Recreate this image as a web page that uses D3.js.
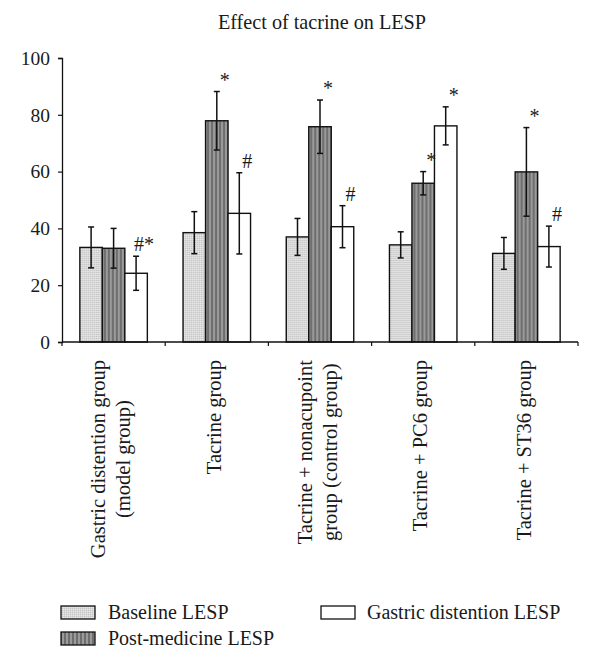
<!DOCTYPE html>
<html>
<head>
<meta charset="utf-8">
<script src="https://cdn.jsdelivr.net/npm/d3@7"></script>
<style>
  html, body { margin: 0; padding: 0; background: #fff; }
  svg { display: block; }
  text { font-family: "Liberation Serif", "Times New Roman", serif; fill: #1a1a1a; }
</style>
</head>
<body>
<svg id="chart" width="600" height="672"></svg>
<script>
// ---- data ----
const title = "Effect of tacrine on LESP";
const categories = [
  ["Gastric distention group", "(model group)"],
  ["Tacrine group"],
  ["Tacrine + nonacupoint", "group (control group)"],
  ["Tacrine + PC6 group"],
  ["Tacrine + ST36 group"]
];
const seriesNames = ["Baseline LESP", "Post-medicine LESP", "Gastric distention LESP"];
const baselineValues = [33.3, 38.5, 37.0, 34.2, 31.2];
const baselineErrors = [7.2, 7.4, 6.5, 4.6, 5.6];
const postValues = [33.0, 77.9, 75.8, 55.9, 59.9];
const postErrors = [7.0, 10.3, 9.4, 4.1, 15.6];
const gastricValues = [24.2, 45.3, 40.6, 76.1, 33.6];
const gastricErrors = [6.0, 14.3, 7.4, 6.7, 7.2];
const baselineMarks = ["", "", "", "", ""];
const postMarks = ["", "*", "*", "*", "*"];
const gastricMarks = ["#*", "#", "#", "*", "#"];
const yTicks = [0, 20, 40, 60, 80, 100];

(function () {
// ---- layout ----
const svg = d3.select("#chart");
const pLeft = 62, pRight = 578, pTop = 58, pBottom = 342;

const defs = svg.append("defs");
const pBase = defs.append("pattern").attr("id", "pBase")
  .attr("patternUnits", "userSpaceOnUse").attr("width", 2).attr("height", 2);
pBase.append("rect").attr("width", 2).attr("height", 2).attr("fill", "#dadada");
pBase.append("rect").attr("width", 1).attr("height", 1).attr("fill", "#c4c4c4");
pBase.append("rect").attr("x", 1).attr("y", 1).attr("width", 1).attr("height", 1).attr("fill", "#e6e6e6");
const pPost = defs.append("pattern").attr("id", "pPost")
  .attr("patternUnits", "userSpaceOnUse").attr("width", 4).attr("height", 4);
pPost.append("rect").attr("width", 4).attr("height", 4).attr("fill", "#9a9a9a");
pPost.append("rect").attr("width", 2).attr("height", 4).attr("fill", "#6e6e6e");

const fills = ["url(#pBase)", "url(#pPost)", "#ffffff"];

const series = [
  { name: seriesNames[0], values: baselineValues, errors: baselineErrors, marks: baselineMarks },
  { name: seriesNames[1], values: postValues, errors: postErrors, marks: postMarks },
  { name: seriesNames[2], values: gastricValues, errors: gastricErrors, marks: gastricMarks }
];

const x0 = d3.scaleBand().domain(d3.range(categories.length)).range([pLeft, pRight])
  .paddingInner(0.346).paddingOuter(0.173);
const x1 = d3.scaleBand().domain(d3.range(series.length)).range([0, x0.bandwidth()]);
const y = d3.scaleLinear().domain([0, 100]).range([pBottom, pTop]);

// title
svg.append("text").attr("x", 322).attr("y", 29).attr("text-anchor", "middle")
  .attr("font-size", 20.2).text(title);

// y axis
const yAxis = svg.append("g").attr("transform", `translate(${pLeft},0)`)
  .call(d3.axisLeft(y).tickValues(yTicks).tickSize(4).tickPadding(8));
yAxis.select(".domain").attr("stroke", "#111").attr("stroke-width", 1.3);
yAxis.selectAll(".tick line").attr("stroke", "#111").attr("stroke-width", 1.2);
yAxis.selectAll(".tick text").attr("font-size", 19.5).attr("font-family", "Liberation Serif, serif").attr("fill", "#1a1a1a");

// bars
const groups = svg.append("g").selectAll("g").data(categories).join("g")
  .attr("transform", (d, i) => `translate(${x0(i)},0)`);

series.forEach((s, si) => {
  groups.append("rect")
    .attr("x", x1(si)).attr("width", x1.bandwidth())
    .attr("y", (d, i) => y(s.values[i]))
    .attr("height", (d, i) => pBottom - y(s.values[i]))
    .attr("fill", fills[si]).attr("stroke", "#111").attr("stroke-width", 1.4);
});
series.forEach((s, si) => {
  const cx = x1(si) + x1.bandwidth() / 2;
  groups.append("line").attr("x1", cx).attr("x2", cx)
    .attr("y1", (d, i) => y(s.values[i] + s.errors[i]))
    .attr("y2", (d, i) => y(s.values[i] - s.errors[i]))
    .attr("stroke", "#111").attr("stroke-width", 1.5);
  [1, -1].forEach(sign => {
    groups.append("line").attr("x1", cx - 3).attr("x2", cx + 3)
      .attr("y1", (d, i) => y(s.values[i] + sign * s.errors[i]))
      .attr("y2", (d, i) => y(s.values[i] + sign * s.errors[i]))
      .attr("stroke", "#111").attr("stroke-width", 1.5);
  });
  groups.append("text")
    .attr("x", cx + 8)
    .attr("y", (d, i) => y(s.values[i] + s.errors[i]) - 5)
    .attr("text-anchor", "middle").attr("font-size", 20)
    .text((d, i) => s.marks[i]);
});

// x axis
const xAxisG = svg.append("g").attr("transform", `translate(0,${pBottom})`);
xAxisG.append("line").attr("x1", pLeft).attr("x2", pRight).attr("stroke", "#111").attr("stroke-width", 1.3);
const boundaries = d3.range(categories.length + 1).map(i => pLeft + i * x0.step());
xAxisG.selectAll("line.tk").data(boundaries).join("line").attr("class", "tk")
  .attr("x1", d => d).attr("x2", d => d).attr("y1", 0).attr("y2", 4)
  .attr("stroke", "#111").attr("stroke-width", 1.2);

// x labels (rotated)
const labelTop = 360, lineGap = 25, fs = 20.5;
categories.forEach((lines, i) => {
  const cx = x0(i) + x0.bandwidth() / 2 - 3;
  const g = svg.append("g");
  if (lines.length === 1) {
    g.append("text").attr("transform", `translate(${cx},${labelTop}) rotate(-90)`)
      .attr("text-anchor", "end").attr("dy", "0.35em").attr("font-size", fs).text(lines[0]);
  } else {
    const texts = lines.map((t, k) => g.append("text")
      .attr("text-anchor", "middle").attr("dy", "0.35em").attr("font-size", fs).text(t));
    const maxLen = d3.max(texts, t => t.node().getComputedTextLength());
    const cy = labelTop + maxLen / 2;
    texts.forEach((t, k) => {
      const lx = cx + (k - (lines.length - 1) / 2) * lineGap;
      t.attr("transform", `translate(${lx},${cy}) rotate(-90)`);
    });
  }
});

// legend
const legendItems = [
  { x: 61, y: 606, tx: 108, ty: 619, si: 0 },
  { x: 61, y: 632, tx: 108, ty: 645, si: 1 },
  { x: 321, y: 606, tx: 367, ty: 619, si: 2 }
];
legendItems.forEach(it => {
  svg.append("rect").attr("x", it.x).attr("y", it.y).attr("width", 34).attr("height", 13)
    .attr("fill", fills[it.si]).attr("stroke", "#111").attr("stroke-width", 1.3);
  svg.append("text").attr("x", it.tx).attr("y", it.ty).attr("font-size", 20)
    .text(series[it.si].name);
});
})();
</script>
</body>
</html>
